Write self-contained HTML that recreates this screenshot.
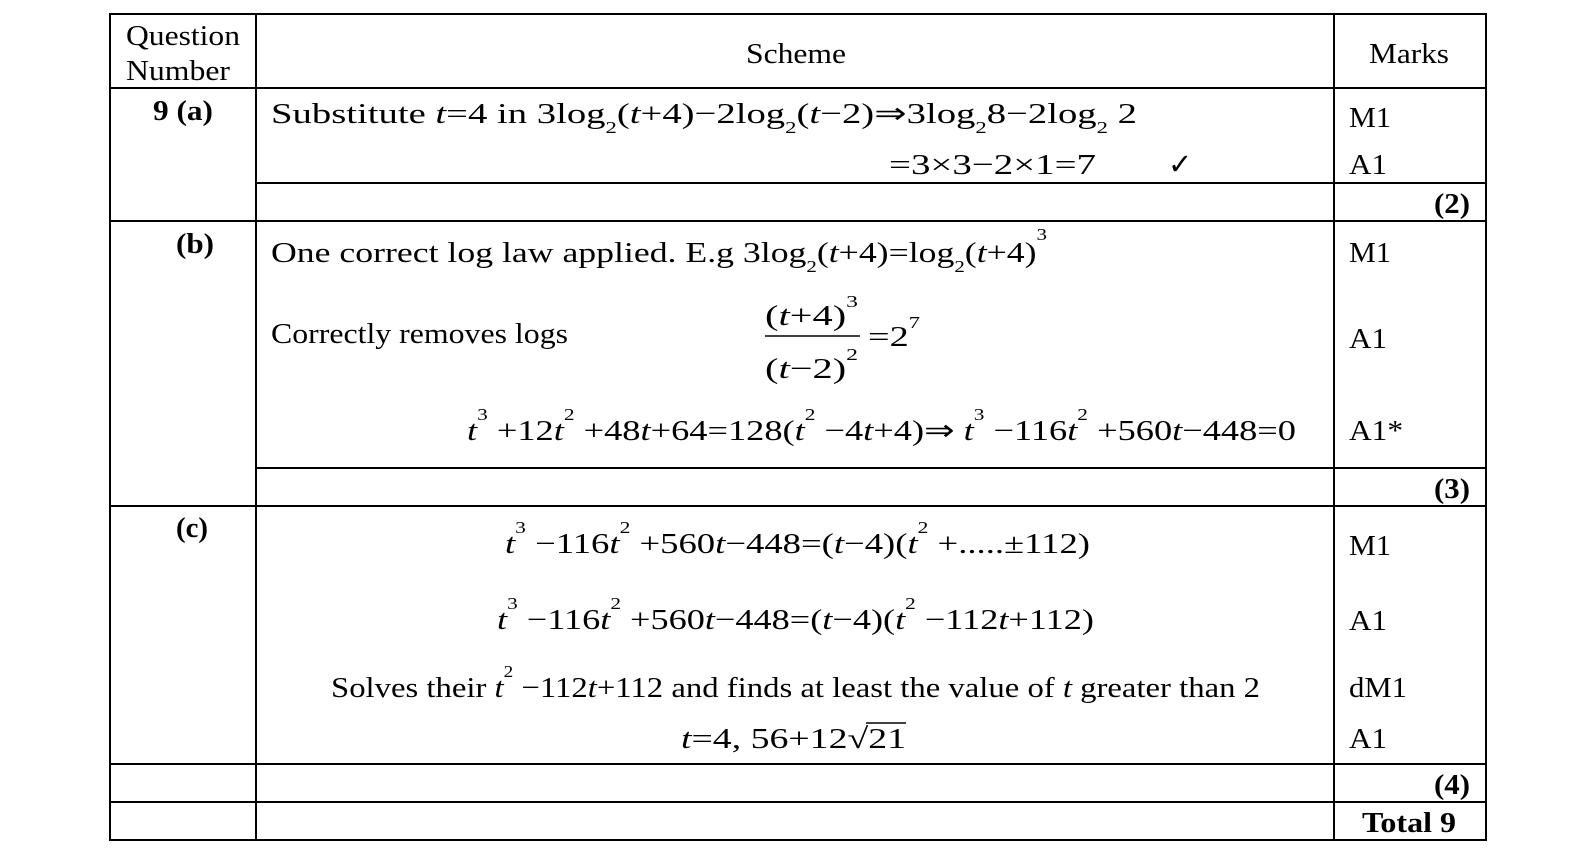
<!DOCTYPE html>
<html><head><meta charset="utf-8"><style>
html,body{margin:0;padding:0;background:#fff;}
svg{display:block;}
text{font-family:"Liberation Serif","Times New Roman",Times,serif;font-size:29px;fill:#000;}
.b{font-weight:bold;}
.i{font-style:italic;}
.s{font-size:17px;}
</style></head><body>
<svg width="1574" height="850" viewBox="0 0 1574 850" xmlns="http://www.w3.org/2000/svg">
<g stroke="#000" stroke-width="2" fill="none">
<rect x="110" y="14" width="1376" height="826"/>
<line x1="256" y1="14" x2="256" y2="840"/>
<line x1="1334" y1="14" x2="1334" y2="840"/>
<line x1="110" y1="88" x2="1486" y2="88"/>
<line x1="256" y1="183" x2="1486" y2="183"/>
<line x1="110" y1="221" x2="1486" y2="221"/>
<line x1="256" y1="468" x2="1486" y2="468"/>
<line x1="110" y1="506" x2="1486" y2="506"/>
<line x1="110" y1="764" x2="1486" y2="764"/>
<line x1="110" y1="802" x2="1486" y2="802"/>
<line x1="765" y1="336" x2="860" y2="336" stroke-width="1.5"/>
</g>
<text x="126" y="45" textLength="114" lengthAdjust="spacingAndGlyphs">Question</text>
<text x="126" y="80" textLength="104" lengthAdjust="spacingAndGlyphs">Number</text>
<text x="746" y="63" textLength="100" lengthAdjust="spacingAndGlyphs">Scheme</text>
<text x="1369" y="63" textLength="80" lengthAdjust="spacingAndGlyphs">Marks</text>

<text class="b" x="153" y="120" textLength="60" lengthAdjust="spacingAndGlyphs">9 (a)</text>
<text x="271" y="123" textLength="866" lengthAdjust="spacingAndGlyphs">Substitute <tspan class="i">t</tspan>=4   in  3log<tspan class="s" dy="10">2</tspan><tspan dy="-10">(</tspan><tspan class="i">t</tspan>+4)−2log<tspan class="s" dy="10">2</tspan><tspan dy="-10">(</tspan><tspan class="i">t</tspan>−2)⇒3log<tspan class="s" dy="10">2</tspan><tspan dy="-10">8−2log</tspan><tspan class="s" dy="10">2</tspan><tspan dy="-10"> 2</tspan></text>
<text x="1349" y="127" textLength="42" lengthAdjust="spacingAndGlyphs">M1</text>
<text x="889" y="174" textLength="207" lengthAdjust="spacingAndGlyphs">=3×3−2×1=7</text>
<text x="1168" y="174">✓</text>
<text x="1349" y="174" textLength="38" lengthAdjust="spacingAndGlyphs">A1</text>
<text class="b" x="1434" y="213" textLength="36" lengthAdjust="spacingAndGlyphs">(2)</text>

<text class="b" x="176" y="253" textLength="38" lengthAdjust="spacingAndGlyphs">(b)</text>
<text x="271" y="262" textLength="776" lengthAdjust="spacingAndGlyphs">One correct log law applied. E.g   3log<tspan class="s" dy="10">2</tspan><tspan dy="-10">(</tspan><tspan class="i">t</tspan>+4)=log<tspan class="s" dy="10">2</tspan><tspan dy="-10">(</tspan><tspan class="i">t</tspan>+4)<tspan class="s" dy="-22">3</tspan></text>
<text x="1349" y="262" textLength="42" lengthAdjust="spacingAndGlyphs">M1</text>
<text x="271" y="343" textLength="297" lengthAdjust="spacingAndGlyphs">Correctly removes logs</text>
<text x="765" y="325" textLength="93" lengthAdjust="spacingAndGlyphs">(<tspan class="i">t</tspan>+4)<tspan class="s" dy="-18">3</tspan></text>
<text x="868" y="346" textLength="52" lengthAdjust="spacingAndGlyphs">=2<tspan class="s" dy="-18">7</tspan></text>
<text x="765" y="378" textLength="93" lengthAdjust="spacingAndGlyphs">(<tspan class="i">t</tspan>−2)<tspan class="s" dy="-18">2</tspan></text>
<text x="1349" y="348" textLength="38" lengthAdjust="spacingAndGlyphs">A1</text>
<text x="467" y="440" textLength="829" lengthAdjust="spacingAndGlyphs"><tspan class="i">t</tspan><tspan class="s" dy="-20">3</tspan><tspan dy="20"> +12</tspan><tspan class="i">t</tspan><tspan class="s" dy="-20">2</tspan><tspan dy="20"> +48</tspan><tspan class="i">t</tspan>+64=128(<tspan class="i">t</tspan><tspan class="s" dy="-20">2</tspan><tspan dy="20"> −4</tspan><tspan class="i">t</tspan>+4)⇒ <tspan class="i">t</tspan><tspan class="s" dy="-20">3</tspan><tspan dy="20"> −116</tspan><tspan class="i">t</tspan><tspan class="s" dy="-20">2</tspan><tspan dy="20"> +560</tspan><tspan class="i">t</tspan>−448=0</text>
<text x="1349" y="440" textLength="54" lengthAdjust="spacingAndGlyphs">A1*</text>
<text class="b" x="1434" y="498" textLength="36" lengthAdjust="spacingAndGlyphs">(3)</text>

<text class="b" x="176" y="537" textLength="32" lengthAdjust="spacingAndGlyphs">(c)</text>
<text x="505" y="553" textLength="585" lengthAdjust="spacingAndGlyphs"><tspan class="i">t</tspan><tspan class="s" dy="-20">3</tspan><tspan dy="20"> −116</tspan><tspan class="i">t</tspan><tspan class="s" dy="-20">2</tspan><tspan dy="20"> +560</tspan><tspan class="i">t</tspan>−448=(<tspan class="i">t</tspan>−4)(<tspan class="i">t</tspan><tspan class="s" dy="-20">2</tspan><tspan dy="20"> +.....±112)</tspan></text>
<text x="1349" y="555" textLength="42" lengthAdjust="spacingAndGlyphs">M1</text>
<text x="497" y="629" textLength="597" lengthAdjust="spacingAndGlyphs"><tspan class="i">t</tspan><tspan class="s" dy="-20">3</tspan><tspan dy="20"> −116</tspan><tspan class="i">t</tspan><tspan class="s" dy="-20">2</tspan><tspan dy="20"> +560</tspan><tspan class="i">t</tspan>−448=(<tspan class="i">t</tspan>−4)(<tspan class="i">t</tspan><tspan class="s" dy="-20">2</tspan><tspan dy="20"> −112</tspan><tspan class="i">t</tspan>+112)</text>
<text x="1349" y="630" textLength="38" lengthAdjust="spacingAndGlyphs">A1</text>
<text x="331" y="697" textLength="929" lengthAdjust="spacingAndGlyphs">Solves their  <tspan class="i">t</tspan><tspan class="s" dy="-20">2</tspan><tspan dy="20"> −112</tspan><tspan class="i">t</tspan>+112  and finds at least the value of <tspan class="i">t</tspan> greater than 2</text>
<text x="1349" y="697" textLength="58" lengthAdjust="spacingAndGlyphs">dM1</text>
<text x="681" y="748" textLength="225" lengthAdjust="spacingAndGlyphs"><tspan class="i">t</tspan>=4,  56+12√21</text>
<line x1="866" y1="723" x2="906" y2="723" stroke="#000" stroke-width="1.5"/>
<text x="1349" y="748" textLength="38" lengthAdjust="spacingAndGlyphs">A1</text>
<text class="b" x="1434" y="794" textLength="36" lengthAdjust="spacingAndGlyphs">(4)</text>
<text class="b" x="1362" y="832" textLength="94" lengthAdjust="spacingAndGlyphs">Total 9</text>
</svg>
</body></html>
